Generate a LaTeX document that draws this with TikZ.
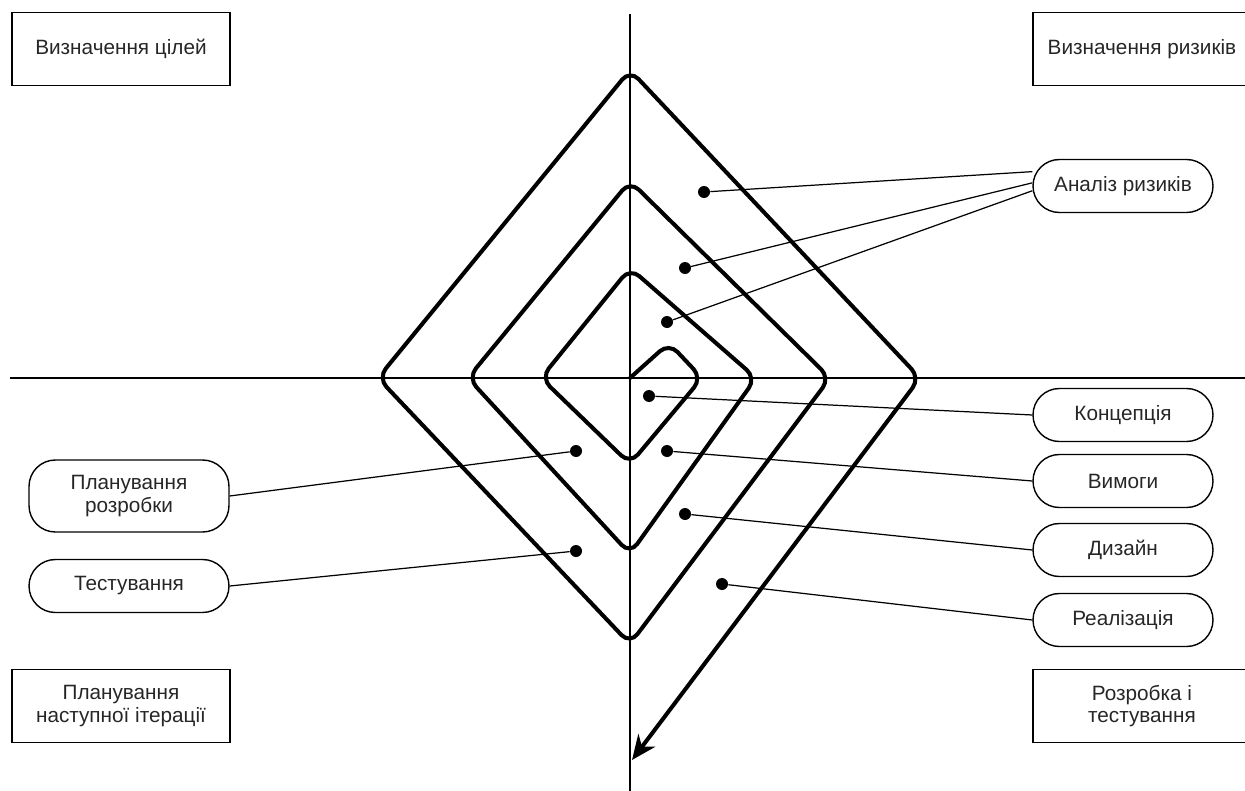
\documentclass[tikz,border=0pt]{standalone}
\usepackage{fontspec}
\setmainfont{Liberation Sans}
\usetikzlibrary{arrows.meta}

\begin{document}
\begin{tikzpicture}[x=0.02cm,y=-0.02cm,
		txt/.style={font=\fontsize{11.8}{13}\selectfont,align=center,text=black!85},
		box/.style={txt,draw,line width=0.8pt,minimum width=4.36cm,minimum height=1.46cm},
		pill/.style={txt,draw,line width=0.8pt,rounded corners=15pt,minimum width=3.6cm,minimum height=1.06cm},
		dot/.style={circle,fill,inner sep=0pt,minimum size=0.24cm},
		link/.style={line width=0.7pt}]
		\clip (0,0) rectangle (1245,791);
		% axes
		\coordinate (N) at (630,14); \coordinate (S) at (630,791);
		\coordinate (W) at (10,378); \coordinate (E) at (1245,378);
		\draw[line width=0.9pt] (N) -- (S);
		\draw[line width=0.9pt] (W) -- (E);
		% spiral
		\draw[line width=2.3pt,rounded corners=7pt,-{Stealth[length=14pt,width=12pt]}]
			(630,378) -- (669,343) -- (702,378) -- (630,464) -- (541,378)
			-- (630,268) -- (756,378) -- (630,554) -- (468,378)
			-- (630,181) -- (830,378) -- (630,644) -- (378,378)
			-- (630,70) -- (920,378) -- (632,760);
		% quadrants
		\node[box] (goals) at (121,49) {Визначення цілей};
		\node[box] (risks) at (1142,49) {Визначення ризиків};
		\node[box] (next) at (121,706) {Планування\\наступної ітерації};
		\node[box] (dev) at (1142,706) {Розробка і\\тестування};
		% stages
		\node[pill] (ar) at (1123,186) {Аналіз ризиків};
		\node[pill] (con) at (1123,415) {Концепція};
		\node[pill] (req) at (1123,481) {Вимоги};
		\node[pill] (des) at (1123,550) {Дизайн};
		\node[pill] (impl) at (1123,620) {Реалізація};
		\node[pill,minimum width=4cm,minimum height=1.44cm] (plan) at (129,496) {Планування\\розробки};
		\node[pill,minimum width=4cm] (test) at (129,586) {Тестування};
		% points on the spiral
		\node[dot] (a1) at (704,192) {};
		\node[dot] (a2) at (685,268) {};
		\node[dot] (a3) at (667,322) {};
		\node[dot] (c1) at (649,396) {};
		\node[dot] (r1) at (667,451) {};
		\node[dot] (d1) at (685,514) {};
		\node[dot] (i1) at (722,584) {};
		\node[dot] (p1) at (576,451) {};
		\node[dot] (t1) at (576,551) {};
		\draw[link] (a1) -- (ar.171);
		\draw[link] (a2) -- (ar.178);
		\draw[link] (a3) -- (ar.183);
		\draw[link] (c1) -- (con.west);
		\draw[link] (r1) -- (req.west);
		\draw[link] (d1) -- (des.west);
		\draw[link] (i1) -- (impl.west);
		\draw[link] (p1) -- (plan.east);
		\draw[link] (t1) -- (test.east);
\end{tikzpicture}
\end{document}
